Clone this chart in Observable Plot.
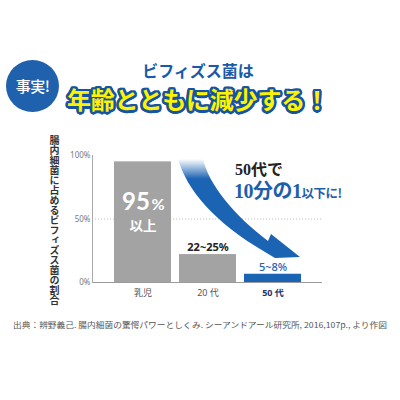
<!DOCTYPE html>
<html><head><meta charset="utf-8">
<script src="https://cdn.jsdelivr.net/npm/d3@7"></script>
<script src="https://cdn.jsdelivr.net/npm/@observablehq/plot@0.6"></script>
<style>
body{margin:0;background:#fff;}
#root{position:relative;width:400px;height:400px;background:#fff;overflow:hidden;font-family:"Noto Sans CJK JP","Noto Sans",sans-serif;}
.circle{position:absolute;left:6px;top:60px;width:53px;height:52px;border-radius:50%;background:#2061ad;color:#fff;font-size:15px;line-height:52px;text-align:center;font-weight:500;letter-spacing:-0.5px;}
.sub{position:absolute;left:0;width:396px;text-align:center;top:62px;font-size:16px;font-weight:700;line-height:1;color:#1a5aa8;text-shadow:0 0 2px #fff,0 0 2px #fff;}
.main{position:absolute;left:67px;top:87px;font-size:24px;font-weight:700;line-height:1;white-space:nowrap;letter-spacing:-0.2px;color:#fff200;
  text-shadow:
   2.5px 0 0 #1553a5,-2.5px 0 0 #1553a5,0 2.5px 0 #1553a5,0 -2.5px 0 #1553a5,
   1.8px 1.8px 0 #1553a5,-1.8px 1.8px 0 #1553a5,1.8px -1.8px 0 #1553a5,-1.8px -1.8px 0 #1553a5,
   2.3px 1px 0 #1553a5,-2.3px 1px 0 #1553a5,2.3px -1px 0 #1553a5,-2.3px -1px 0 #1553a5,
   1px 2.3px 0 #1553a5,-1px 2.3px 0 #1553a5,1px -2.3px 0 #1553a5,-1px -2.3px 0 #1553a5,
   0 0 4px #fff,0 0 4px #fff;}
.ylab{position:absolute;left:49px;top:135px;writing-mode:vertical-rl;font-size:10px;font-weight:700;color:#333;line-height:11px;}
#chart{position:absolute;left:0;top:130px;}
.ann1{position:absolute;left:235px;top:162px;font-size:16px;font-weight:700;color:#222;font-family:"Liberation Serif","Noto Sans CJK JP",serif;line-height:1;}
.ann2{position:absolute;left:234px;top:181px;font-size:20px;font-weight:700;color:#1f5faa;font-family:"Liberation Serif","Noto Sans CJK JP",serif;line-height:1;white-space:nowrap;letter-spacing:-0.5px;}
.ann2 span{font-size:12.5px;font-family:"Noto Sans CJK JP",sans-serif;}
.cap{position:absolute;left:13px;top:321px;font-size:8px;color:#555;white-space:nowrap;transform-origin:0 0;line-height:1;}
</style></head>
<body>
<div id="root">
  <div class="circle">事実!</div>
  <div class="sub" id="sub"></div>
  <div class="main" id="main"></div>
  <div class="ylab" id="ylab"></div>
  <div id="chart"></div>
  <div class="ann1" id="ann1"></div>
  <div class="ann2" id="ann2"></div>
  <div class="cap" id="cap"></div>
</div>
<script>
// ---- data ----
const categories = ["乳児", "20代", "50代"];
const tickLabels = ["乳児", "20 代", "50 代"];
const values = [95, 22, 6.5];
const valueLabels = ["95%以上", "22~25%", "5~8%"];
const yTicks = [0, 50, 100];
const subtitle = "ビフィズス菌は";
const title = "年齢とともに減少する！";
const yTitle = "腸内細菌に占めるビフィズス菌の割合";
const note1 = "50代で";
const note2a = "10分の1";
const note2b = "以下に!";
const caption = "出典：辨野義己. 腸内細菌の驚愕パワーとしくみ. シーアンドアール研究所, 2016,107p., より作図";

const GRAY = "#a3a3a3";
const BLUE = "#1b63b3";

document.getElementById("sub").textContent = subtitle;
document.getElementById("main").textContent = title;
document.getElementById("ylab").textContent = yTitle;
document.getElementById("ann1").textContent = note1;
document.getElementById("ann2").innerHTML = note2a + "<span>" + note2b + "</span>";
const cap = document.getElementById("cap");
cap.textContent = caption;

const data = categories.map((c, i) => ({cat: c, value: values[i], tick: tickLabels[i], label: valueLabels[i]}));
const first = data.filter(d => d.cat === "乳児");
const mid = data.filter(d => d.cat === "20代");
const last = data.filter(d => d.cat === "50代");
const others = data.filter(d => d.cat !== "50代");

// curved arrow annotation, anchored on the scales
function arrowMark() {
  return (index, scales, values, dim, context) => {
    const ax = scales.x("20代"), ay = scales.y(100);
    const p = (dx, dy) => [ax + dx, ay + dy];
    const pts = {
      P0: p(-1, 4), c1: p(8, 35), c2: p(35, 67), Oe: p(86, 97),
      L: p(96, 103), T: p(121, 102), U: p(92, 79), Ie: p(89, 86),
      c3: p(55, 60), c4: p(30, 30), P1: p(24, 4)
    };
    const f = k => pts[k].join(",");
    const d = `M${f("P0")}C${f("c1")} ${f("c2")} ${f("Oe")}L${f("L")}L${f("T")}L${f("U")}L${f("Ie")}C${f("c3")} ${f("c4")} ${f("P1")}Z`;
    const g = d3.create("svg:g");
    const grad = g.append("defs").append("linearGradient")
      .attr("id", "arrowfade").attr("gradientUnits", "userSpaceOnUse")
      .attr("x1", 0).attr("x2", 0).attr("y1", ay + 4).attr("y2", ay + 24);
    grad.append("stop").attr("offset", 0).attr("stop-color", "#fff");
    grad.append("stop").attr("offset", 1).attr("stop-color", BLUE);
    g.append("path").attr("d", d).attr("fill", "url(#arrowfade)");
    return g.node();
  };
}

const NUMFONT = 'Lato,"Open Sans",sans-serif';
const chart = Plot.plot({
  width: 400, height: 180,
  marginTop: 25, marginBottom: 28, marginLeft: 92, marginRight: 78,
  x: {domain: categories, range: [113, 303], paddingInner: 0.12, paddingOuter: 0, axis: null},
  y: {domain: [0, 100], axis: null},
  style: {fontFamily: '"Noto Sans","Noto Sans CJK JP",sans-serif', background: "transparent", overflow: "visible"},
  marks: [
    Plot.ruleY([50], {stroke: "#c4c4c4", strokeDasharray: "1.2,1.8"}),
    Plot.barY(others, {x: "cat", y: "value", fill: GRAY}),
    Plot.barY(last, {x: "cat", y: "value", fill: BLUE}),
    Plot.ruleY([0], {stroke: "#9a9a9a"}),
    Plot.frame({anchor: "left", stroke: "#aaa"}),
    Plot.axisY({ticks: yTicks, tickSize: 0, tickPadding: 2, tickFormat: d => d + "%", fontSize: 8, color: "#7a7a7a", label: null}),
    arrowMark(),
    // value labels
    Plot.text(first, {x: "cat", y: "value", text: d => d.label.split("%")[0], dx: -7, dy: 40, fontSize: 24, fontWeight: "bold", fill: "#fff", fontFamily: NUMFONT}),
    Plot.text(first, {x: "cat", y: "value", text: () => "%", dx: 15, dy: 43, fontSize: 16, fontWeight: "bold", fill: "#fff", fontFamily: NUMFONT}),
    Plot.text(first, {x: "cat", y: "value", text: d => d.label.split("%")[1], dy: 64.5, fontSize: 13.5, fontWeight: "bold", fill: "#fff"}),
    Plot.text(mid, {x: "cat", y: "value", text: "label", dy: -7, fontSize: 11, fontWeight: "bold", fill: "#222"}),
    Plot.text(last, {x: "cat", y: "value", text: "label", dy: -7, fontSize: 11, fontWeight: "500", fill: BLUE}),
    // category labels
    Plot.text(others, {x: "cat", y: 0, text: "tick", dy: 11, fontSize: 9, fill: "#555"}),
    Plot.text(last, {x: "cat", y: 0, text: "tick", dy: 11, fontSize: 9, fontWeight: "bold", fill: "#1c3566"})
  ]
});
document.getElementById("chart").appendChild(chart);

// fit caption width to the reference
const w = cap.getBoundingClientRect().width;
cap.style.transform = `scaleX(${374 / w})`;
</script>
</body></html>
